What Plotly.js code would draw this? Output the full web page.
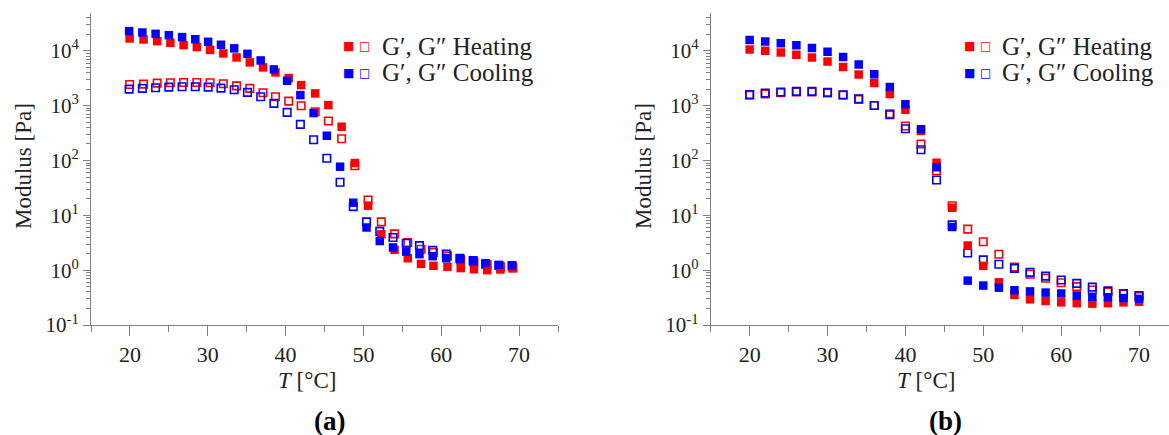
<!DOCTYPE html>
<html><head><meta charset="utf-8">
<script src="https://cdn.plot.ly/plotly-3.0.1.min.js"></script>
<style>html,body{margin:0;padding:0;overflow:hidden;background:#fff}#chart{width:1180px;height:435px}</style>
</head><body><div id="chart"></div>
<script>
// ---------- Panel (a) data ----------
const tempA_heat = [19.96, 21.75, 23.5, 25.2, 26.9, 28.6, 30.3, 32.0, 33.7, 35.4, 37.1, 38.7, 40.4, 42.0, 43.8, 45.5, 47.2, 48.9, 50.6, 52.3, 54.0, 55.7, 57.4, 59.0, 60.8, 62.5, 64.2, 65.9, 67.6, 69.2];
const tempA_cool = [19.9, 21.6, 23.3, 25.0, 26.7, 28.4, 30.05, 31.7, 33.4, 35.1, 36.8, 38.5, 40.2, 41.9, 43.6, 45.3, 47.0, 48.7, 50.4, 52.1, 53.8, 55.5, 57.2, 58.9, 60.65, 62.4, 64.1, 65.7, 67.4, 69.1];
const gp_heat_a  = [16800, 16100, 15000, 14000, 12700, 11700, 10400, 8970, 7580, 6150, 4990, 4040, 3190, 2370, 1675, 1025, 413, 90, 15, 4.5, 2.35, 1.65, 1.3, 1.2, 1.15, 1.09, 1.04, 1.0, 1.03, 1.09];
const gpp_heat_a = [2440, 2470, 2580, 2610, 2650, 2650, 2610, 2510, 2300, 2070, 1720, 1450, 1210, 996, 774, 525, 250, 80, 19, 7.6, 4.6, 3.2, 2.4, 2.1, 1.8, 1.55, 1.4, 1.25, 1.15, 1.1];
const gp_cool_a  = [22900, 21600, 20400, 19300, 17800, 16300, 14600, 12900, 11100, 8820, 6680, 4580, 2840, 1560, 733, 283, 77, 17, 6.0, 3.4, 2.6, 2.18, 1.96, 1.8, 1.65, 1.59, 1.46, 1.34, 1.25, 1.22];
const gpp_cool_a = [2000, 2070, 2120, 2180, 2210, 2210, 2180, 2090, 1950, 1750, 1450, 1100, 755, 456, 239, 110, 40, 14.4, 7.6, 5.1, 3.95, 3.1, 2.8, 2.3, 1.96, 1.65, 1.5, 1.29, 1.22, 1.2];

// ---------- Panel (b) data ----------
const tempB = [20, 22, 24, 26, 28, 30, 32, 34, 36, 38, 40, 42, 44, 46, 48, 50, 52, 54, 56, 58, 60, 62, 64, 66, 68, 70];
const gp_heat_b  = [10600, 10000, 9350, 8460, 7580, 6410, 5050, 3720, 2580, 1630, 842, 344, 91, 13.8, 2.81, 1.2, 0.6, 0.354, 0.294, 0.274, 0.259, 0.25, 0.245, 0.25, 0.259, 0.266];
const gpp_heat_b = [1560, 1630, 1720, 1770, 1770, 1700, 1560, 1300, 1010, 713, 425, 200, 65, 15, 5.6, 3.3, 1.95, 1.14, 0.84, 0.71, 0.59, 0.5, 0.436, 0.4, 0.363, 0.33];
const gp_cool_b  = [15700, 14800, 13800, 12700, 11300, 9590, 7680, 5650, 3760, 2180, 1060, 370, 75, 6.1, 0.645, 0.524, 0.48, 0.43, 0.41, 0.39, 0.375, 0.345, 0.327, 0.32, 0.31, 0.3];
const gpp_cool_b = [1600, 1700, 1770, 1820, 1820, 1750, 1580, 1340, 1010, 683, 380, 157, 44, 6.7, 2.06, 1.54, 1.28, 1.08, 0.91, 0.78, 0.66, 0.575, 0.49, 0.42, 0.375, 0.345];

// ---------- Tick labels / texts ----------
const yTickVals = [0.1, 1, 10, 100, 1000, 10000];
const yTickText = ['10<sup>-1</sup>', '10<sup>0</sup>', '10<sup>1</sup>', '10<sup>2</sup>', '10<sup>3</sup>', '10<sup>4</sup>'];
const xTickVals = [20, 30, 40, 50, 60, 70];
const legendLabels = ['G\u2032, G\u2033 Heating', 'G\u2032, G\u2033 Cooling'];
const panelLabels = ['(a)', '(b)'];

const RED = '#ff0000', BLUE = '#0000ff';
const W = 1180, H = 435;
const px = v => v / W, py = v => (H - v) / H;
const FONT = 'Liberation Serif';
const AX = '#808080', TXT = '#222222';

function filled(x, y, c, xa, ya) {
  return {x, y, xaxis: xa, yaxis: ya, type: 'scatter', mode: 'markers', hoverinfo: 'skip', showlegend: false,
    marker: {symbol: 'square', size: 8.5, color: c, line: {width: 0}}};
}
function open(x, y, c, xa, ya) {
  return {x, y, xaxis: xa, yaxis: ya, type: 'scatter', mode: 'markers', hoverinfo: 'skip', showlegend: false,
    marker: {symbol: 'square-open', size: 7.5, color: c, line: {width: 1.6, color: c}}};
}

const data = [
  open(tempA_heat, gpp_heat_a, RED, 'x', 'y'),
  open(tempA_cool, gpp_cool_a, BLUE, 'x', 'y'),
  filled(tempA_heat, gp_heat_a, RED, 'x', 'y'),
  filled(tempA_cool, gp_cool_a, BLUE, 'x', 'y'),
  open(tempB, gpp_heat_b, RED, 'x2', 'y2'),
  open(tempB, gpp_cool_b, BLUE, 'x2', 'y2'),
  filled(tempB, gp_heat_b, RED, 'x2', 'y2'),
  filled(tempB, gp_cool_b, BLUE, 'x2', 'y2')
];

const yDom = [py(325), py(13)];
const yRange = [-1, 4.69];
const xRange = [15, 75];

function xBottom(dom, anchor) {
  return {domain: dom, anchor, range: xRange, showgrid: false, zeroline: false, showline: true, linecolor: AX, linewidth: 1,
    tickmode: 'array', tickvals: xTickVals, ticks: 'outside', ticklen: 10, tickwidth: 1, tickcolor: AX,
    minor: {dtick: 5, tick0: 15, ticks: 'outside', ticklen: 6, tickwidth: 1, tickcolor: AX},
    tickfont: {family: FONT, size: 22, color: TXT}, fixedrange: true};
}
function xTop(over, anchor) {
  return {overlaying: over, anchor, side: 'top', range: xRange, showgrid: false, zeroline: false, showline: true, linecolor: AX, linewidth: 1,
    tickmode: 'array', tickvals: xTickVals, ticks: 'inside', ticklen: 10, tickwidth: 1, tickcolor: AX, showticklabels: false,
    minor: {dtick: 5, tick0: 15, ticks: 'inside', ticklen: 6, tickwidth: 1, tickcolor: AX}, fixedrange: true};
}
function yLeft(anchor) {
  return {domain: yDom, anchor, type: 'log', range: yRange, showgrid: false, zeroline: false, showline: true, linecolor: AX, linewidth: 1,
    tickmode: 'array', tickvals: yTickVals, ticktext: yTickText, ticks: 'outside', ticklen: 7, tickwidth: 1, tickcolor: AX,
    minor: {dtick: 'D1', ticks: 'outside', ticklen: 4, tickwidth: 1, tickcolor: AX},
    tickfont: {family: FONT, size: 21, color: TXT}, fixedrange: true};
}
function yRight(over, anchor) {
  return {overlaying: over, anchor, side: 'right', type: 'log', range: yRange, showgrid: false, zeroline: false, showline: true, linecolor: AX, linewidth: 1,
    tickmode: 'array', tickvals: yTickVals, ticks: 'inside', ticklen: 9, tickwidth: 1, tickcolor: AX, showticklabels: false,
    minor: {dtick: 'D1', ticks: 'inside', ticklen: 5, tickwidth: 1, tickcolor: AX}, fixedrange: true};
}

const annotations = [];
const panels = [
  {left: 91, titleX: 307, ytitleX: 23, labelX: 329, glyph: [348.5, 364.5], textX: 380},
  {left: 710.7, titleX: 926, ytitleX: 643, labelX: 945, glyph: [969, 985], textX: 1000}
];
const rowY = [46, 72.7];
const rowColor = [RED, BLUE];
panels.forEach((p, i) => {
  annotations.push({xref: 'paper', yref: 'paper', x: px(p.titleX), y: py(380), xanchor: 'center', yanchor: 'middle', showarrow: false,
    text: '<i>T</i> [\u00b0C]', font: {family: FONT, size: 23, color: TXT}});
  annotations.push({xref: 'paper', yref: 'paper', x: px(p.ytitleX), y: py(166), xanchor: 'center', yanchor: 'middle', showarrow: false, textangle: -90,
    text: 'Modulus [Pa]', font: {family: FONT, size: 23, color: TXT}});
  annotations.push({xref: 'paper', yref: 'paper', x: px(p.labelX), y: py(421), xanchor: 'center', yanchor: 'middle', showarrow: false,
    text: '<b>' + panelLabels[i] + '</b>', font: {family: FONT, size: 27, color: '#000'}});
  rowY.forEach((ry, r) => {
    annotations.push({xref: 'paper', yref: 'paper', x: px(p.glyph[0]), y: py(ry), xanchor: 'center', yanchor: 'middle', showarrow: false,
      text: '\u25a0', font: {family: 'DejaVu Sans', size: 12, color: rowColor[r]}});
    annotations.push({xref: 'paper', yref: 'paper', x: px(p.glyph[1]), y: py(ry), xanchor: 'center', yanchor: 'middle', showarrow: false,
      text: '\u25a1', font: {family: 'DejaVu Sans', size: 12, color: rowColor[r]}});
    annotations.push({xref: 'paper', yref: 'paper', x: px(p.textX), y: py(ry), xanchor: 'left', yanchor: 'middle', showarrow: false,
      text: legendLabels[r], font: {family: FONT, size: 25, color: TXT}});
  });
});

const layout = {
  width: W, height: H, margin: {l: 0, r: 0, t: 0, b: 0}, paper_bgcolor: '#fff', plot_bgcolor: '#fff', showlegend: false,
  font: {family: FONT},
  xaxis: xBottom([px(91), px(558)], 'y'),
  yaxis: yLeft('x'),
  xaxis2: xBottom([px(710.7), px(1178)], 'y2'),
  yaxis2: yLeft('x2'),
  xaxis3: xTop('x', 'y'),
  yaxis3: yRight('y', 'x'),
  xaxis4: xTop('x2', 'y2'),
  yaxis4: yRight('y2', 'x2'),
  annotations
};

Plotly.newPlot('chart', data, layout, {displayModeBar: false, staticPlot: true});
</script></body></html>
